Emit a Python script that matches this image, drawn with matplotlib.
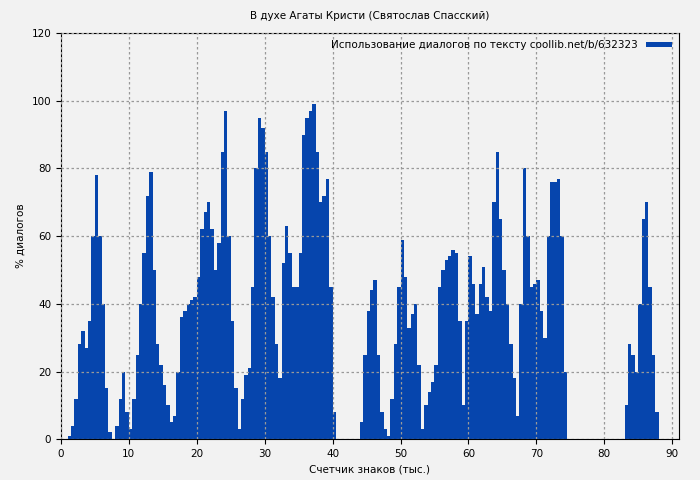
import numpy as np
import matplotlib.pyplot as plt

start_x = 0.5
step = 0.5
dialog_pct = [
    0, 1, 4, 12, 28, 32, 27, 35, 60, 78, 60, 40, 15, 2, 0, 4, 12, 20, 8, 3,
    12, 25, 40, 55, 72, 79, 50, 28, 22, 16, 10, 5, 7, 20, 36, 38, 40, 41, 42, 48,
    62, 67, 70, 62, 50, 58, 85, 97, 60, 35, 15, 3, 12, 19, 21, 45, 80, 95, 92, 85,
    60, 42, 28, 18, 52, 63, 55, 45, 45, 55, 90, 95, 97, 99, 85, 70, 72, 77, 45, 8,
    0, 0, 0, 0, 0, 0, 0, 5, 25, 38, 44, 47, 25, 8, 3, 1, 12, 28, 45, 59,
    48, 33, 37, 40, 22, 3, 10, 14, 17, 22, 45, 50, 53, 54, 56, 55, 35, 10, 35, 54,
    46, 37, 46, 51, 42, 38, 70, 85, 65, 50, 40, 28, 18, 7, 40, 80, 60, 45, 46, 47,
    38, 30, 60, 76, 76, 77, 60, 20, 0, 0, 0, 0, 0, 0, 0, 0, 0, 0, 0, 0,
    0, 0, 0, 0, 0, 10, 28, 25, 20, 40, 65, 70, 45, 25, 8, 0, 0, 0, 0,
]
chars_k = start_x + step * np.arange(len(dialog_pct))

bg = '#f2f2f2'
blue = '#0645ad'

fig = plt.figure(figsize=(7, 4.8), dpi=100, facecolor=bg)
ax = fig.add_axes([0.087, 0.085, 0.883, 0.846], facecolor=bg)
ax.bar(chars_k, dialog_pct, width=step, color=blue, linewidth=0, align='edge',
       label='Использование диалогов по тексту coollib.net/b/632323')
ax.set_xlim(0, 91)
ax.set_ylim(0, 120)
ax.set_xticks(range(0, 91, 10))
ax.set_yticks(range(0, 121, 20))
ax.grid(True, color='#999999', linestyle=(0, (2, 2)), linewidth=0.9)
ax.set_axisbelow(False)
ax.tick_params(labelsize=7.5)
ax.set_title('В духе Агаты Кристи (Святослав Спасский)', fontsize=7.5, pad=10)
ax.set_xlabel('Счетчик знаков (тыс.)', fontsize=7.5)
ax.set_ylabel('% диалогов', fontsize=7.5)
ax.legend(loc='upper right', fontsize=7.5, frameon=False, handlelength=2.5,
          handleheight=0.4, markerfirst=False, borderaxespad=0.3)
fig.savefig('out.png', facecolor=bg)
